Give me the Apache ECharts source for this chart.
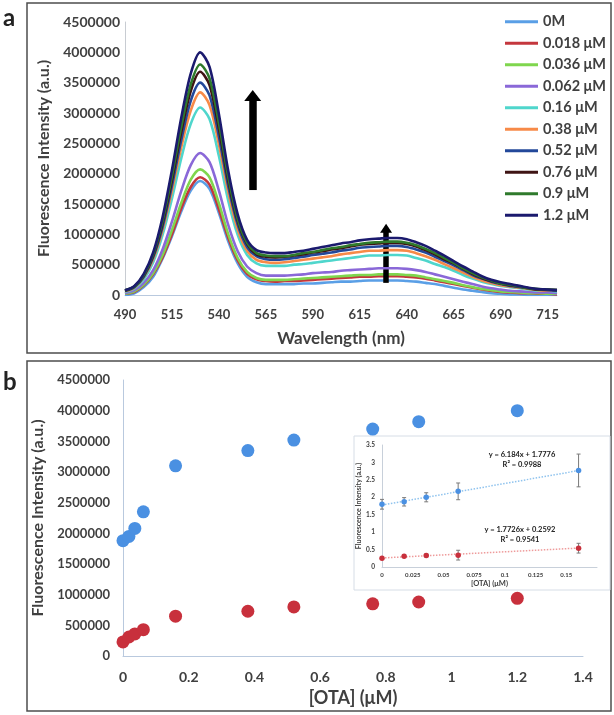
<!DOCTYPE html>
<html>
<head>
<meta charset="utf-8">
<script src="https://cdn.jsdelivr.net/npm/echarts@6/dist/echarts.min.js"></script>
<style>
html,body{margin:0;padding:0;background:#fff;}
#chart{width:614px;height:715px;}
</style>
</head>
<body>
<div id="chart"></div>
<script>
// ---------- Panel a: spectra ----------
const wavelengths = [490,495,500,505,510,515,520,525,530,535,540,545,550,555,560,565,570,575,580,585,590,595,600,605,610,615,620,625,630,635,640,645,650,655,660,665,670,675,680,685,690,695,700,705,710,715,720];
const seriesNames = ['0M','0.018 μM','0.036 μM','0.062 μM','0.16 μM','0.38 μM','0.52 μM','0.76 μM','0.9 μM','1.2 μM'];
const seriesColors = ['#5a9fe6','#c4373d','#7fd64e','#8a68d8','#4fd6cc','#f78a48','#23489a','#3f1414','#2f7a2c','#1b1a6e'];

const s0 = [0,30000,130000,300000,600000,970000,1380000,1720000,1880000,1750000,1350000,880000,520000,300000,210000,180000,180000,180000,180000,190000,190000,200000,210000,220000,220000,230000,240000,240000,240000,240000,230000,220000,200000,180000,150000,120000,90000,70000,50000,30000,20000,10000,10000,0,0,0,0];
const s018 = [20000,50000,160000,340000,620000,1000000,1430000,1780000,1940000,1820000,1410000,940000,570000,350000,260000,230000,220000,230000,230000,240000,250000,260000,270000,280000,290000,300000,300000,310000,310000,310000,300000,290000,270000,240000,210000,180000,150000,120000,90000,70000,50000,40000,30000,30000,20000,20000,10000];
const s036 = [20000,60000,170000,360000,660000,1070000,1520000,1900000,2070000,1940000,1510000,1000000,610000,380000,280000,250000,250000,250000,260000,270000,280000,290000,300000,310000,320000,330000,330000,340000,340000,340000,330000,320000,290000,260000,230000,200000,160000,130000,100000,80000,60000,50000,40000,30000,30000,20000,20000];
const s062 = [30000,80000,200000,410000,750000,1210000,1720000,2140000,2340000,2190000,1720000,1150000,720000,470000,360000,320000,320000,320000,330000,340000,360000,370000,380000,400000,410000,420000,430000,440000,440000,440000,430000,410000,380000,340000,300000,260000,220000,180000,140000,110000,90000,70000,60000,50000,40000,40000,30000];
const s16 = [50000,110000,260000,540000,990000,1590000,2260000,2820000,3090000,2900000,2290000,1550000,990000,660000,520000,480000,480000,480000,500000,510000,530000,550000,570000,590000,610000,630000,650000,650000,660000,660000,650000,610000,570000,510000,460000,400000,330000,270000,220000,180000,150000,130000,110000,90000,70000,70000,60000];
const s38 = [60000,120000,290000,590000,1070000,1720000,2440000,3040000,3340000,3130000,2480000,1690000,1080000,730000,580000,540000,530000,540000,560000,580000,600000,620000,640000,670000,690000,710000,730000,730000,740000,740000,730000,690000,640000,580000,510000,440000,370000,300000,240000,200000,160000,140000,120000,100000,80000,70000,70000];
const s52 = [70000,130000,300000,620000,1120000,1800000,2560000,3200000,3500000,3290000,2610000,1790000,1160000,790000,640000,590000,580000,590000,610000,630000,660000,680000,700000,730000,750000,780000,790000,800000,810000,810000,790000,750000,700000,630000,560000,490000,410000,330000,270000,220000,180000,150000,130000,110000,90000,80000,70000];
const s76 = [70000,140000,320000,650000,1180000,1890000,2690000,3360000,3680000,3460000,2740000,1880000,1220000,840000,670000,630000,620000,630000,650000,670000,700000,720000,750000,770000,800000,830000,840000,850000,860000,860000,840000,800000,740000,670000,590000,520000,430000,350000,280000,230000,190000,160000,140000,110000,90000,90000,80000];
const s90 = [80000,140000,330000,670000,1220000,1960000,2780000,3470000,3800000,3570000,2830000,1940000,1250000,860000,690000,650000,640000,640000,660000,690000,710000,740000,770000,790000,820000,840000,860000,870000,880000,880000,860000,820000,760000,690000,610000,530000,440000,360000,290000,240000,190000,170000,140000,110000,100000,90000,80000];
const s120 = [80000,150000,350000,700000,1280000,2060000,2930000,3650000,4000000,3760000,2980000,2040000,1330000,910000,740000,700000,690000,690000,710000,730000,760000,790000,820000,850000,870000,900000,920000,930000,940000,940000,920000,870000,810000,730000,650000,560000,470000,390000,310000,250000,210000,180000,150000,120000,100000,90000,80000];
const spectra = [s0,s018,s036,s062,s16,s38,s52,s76,s90,s120];

// arrows (annotation) : [wavelength, startValue, endValue]
const bigArrow = [558, 1730000, 3290000];
const smallArrow = [629, 200000, 1100000];

// ---------- Panel b: intensity vs concentration ----------
const otaConc = [0,0.018,0.036,0.062,0.16,0.38,0.52,0.76,0.9,1.2];
const peak530 = [1880000,1950000,2080000,2350000,3100000,3350000,3520000,3700000,3820000,4000000];
const peak630 = [230000,310000,360000,430000,650000,730000,800000,850000,880000,940000];

// ---------- Inset ----------
const insetConc = [0,0.018,0.036,0.062,0.16];
const insetBlue = [1.80,1.87,2.00,2.17,2.77];
const insetBlueErr = [0.14,0.12,0.13,0.24,0.47];
const insetRed = [0.25,0.31,0.33,0.34,0.54];
const insetRedErr = [0.02,0.03,0.04,0.14,0.14];
const blueTrend = [[0,1.7776],[0.16,2.7670]];
const redTrend = [[0,0.2592],[0.16,0.5428]];
const blueEq = ['y = 6.184x + 1.7776','R² = 0.9988'];
const redEq = ['y = 1.7726x + 0.2592','R² = 0.9541'];

const FONT = 'Lato';
const TXT = '#404040';

const chart = echarts.init(document.getElementById('chart'), null, {renderer:'canvas'});

const lineSeries = spectra.map((arr, i) => {
  const s = {
    name: seriesNames[i],
    type: 'line',
    xAxisIndex: 0, yAxisIndex: 0,
    data: wavelengths.map((w, j) => [w, arr[j]]),
    showSymbol: false,
    smooth: 0.3,
    lineStyle: {width: 2.6, color: seriesColors[i]},
    itemStyle: {color: seriesColors[i]},
    z: 2 + i
  };
  if (i === spectra.length - 1) {
    s.markLine = {
      silent: true,
      animation: false,
      label: {show: false},
      emphasis: {disabled: true},
      data: [
        [{coord: [bigArrow[0], bigArrow[1]], symbol: 'none', lineStyle: {color: '#000', width: 7.5, type: 'solid'}},
         {coord: [bigArrow[0], bigArrow[2]], symbol: 'triangle', symbolSize: [17, 11]}],
        [{coord: [smallArrow[0], smallArrow[1]], symbol: 'none', lineStyle: {color: '#000', width: 5.5, type: 'solid'}},
         {coord: [smallArrow[0], smallArrow[2]], symbol: 'triangle', symbolSize: [12, 9]}]
      ]
    };
  }
  return s;
});

function errRender() {
  return function (params, api) {
    const x = api.value(0), y = api.value(1), e = api.value(2);
    const t = api.coord([x, y + e]);
    const b = api.coord([x, y - e]);
    const w = 2;
    const st = {stroke: '#7a7a7a', lineWidth: 1};
    return {type: 'group', children: [
      {type: 'line', shape: {x1: t[0], y1: t[1], x2: b[0], y2: b[1]}, style: st},
      {type: 'line', shape: {x1: t[0] - w, y1: t[1], x2: t[0] + w, y2: t[1]}, style: st},
      {type: 'line', shape: {x1: b[0] - w, y1: b[1], x2: b[0] + w, y2: b[1]}, style: st}
    ]};
  };
}

const option = {
  animation: false,
  backgroundColor: '#fff',
  textStyle: {fontFamily: FONT},
  legend: {
    data: seriesNames,
    orient: 'vertical',
    left: 505, top: 11,
    padding: 0,
    itemWidth: 33, itemHeight: 3, itemGap: 0,
    icon: 'rect',
    selectedMode: false,
    textStyle: {fontFamily: FONT, fontWeight: 'bold', fontSize: 14.5, color: TXT, lineHeight: 21.5}
  },
  grid: [
    {left: 125, top: 22, width: 432, height: 273},
    {left: 123, top: 380, width: 460, height: 276},
    {left: 382, top: 445, width: 215, height: 122}
  ],
  xAxis: [
    {gridIndex: 0, type: 'value', min: 490, max: 720, interval: 25,
     axisLine: {show: true, lineStyle: {color: '#b9c9de', width: 1}}, axisTick: {show: false}, splitLine: {show: false},
     axisLabel: {showMaxLabel: false, fontFamily: FONT, fontWeight: 'bold', fontSize: 13, color: TXT, margin: 13},
     name: 'Wavelength (nm)', nameLocation: 'middle', nameGap: 35,
     nameTextStyle: {fontFamily: FONT, fontWeight: 'bold', fontSize: 17, color: TXT}},
    {gridIndex: 1, type: 'value', min: 0, max: 1.4, interval: 0.2,
     axisLine: {show: true, onZero: false, lineStyle: {color: '#b9c9de', width: 1}}, axisTick: {show: false}, splitLine: {show: false},
     axisLabel: {fontFamily: FONT, fontWeight: 'bold', fontSize: 14, color: TXT, margin: 14},
     name: '[OTA] (μM)', nameLocation: 'middle', nameGap: 33,
     nameTextStyle: {fontFamily: FONT, fontWeight: 'bold', fontSize: 18, color: TXT}},
    {gridIndex: 2, type: 'value', min: 0, max: 0.175, interval: 0.025,
     axisLine: {show: true, onZero: false, lineStyle: {color: '#c8d0da', width: 1}}, axisTick: {show: false}, splitLine: {show: false},
     axisLabel: {showMaxLabel: false, fontFamily: FONT, fontWeight: 'bold', fontSize: 6, color: TXT, margin: 5,
       formatter: v => String(Math.round(v * 1000) / 1000)},
     name: '[OTA] (μM)', nameLocation: 'middle', nameGap: 13,
     nameTextStyle: {fontFamily: FONT, fontWeight: 'bold', fontSize: 7.5, color: TXT}}
  ],
  yAxis: [
    {gridIndex: 0, type: 'value', min: 0, max: 4500000, interval: 500000,
     axisLine: {show: true, lineStyle: {color: '#c8ccd2', width: 1}}, axisTick: {show: false}, splitLine: {show: false},
     axisLabel: {fontFamily: FONT, fontWeight: 'bold', fontSize: 14, color: TXT, margin: 5, formatter: v => String(v)},
     name: 'Fluorescence Intensity (a.u.)', nameLocation: 'middle', nameGap: 72,
     nameTextStyle: {fontFamily: FONT, fontWeight: 'bold', fontSize: 16, color: TXT}},
    {gridIndex: 1, type: 'value', min: 0, max: 4500000, interval: 500000,
     axisLine: {show: true, onZero: false, lineStyle: {color: '#b9c9de', width: 1}}, axisTick: {show: false}, splitLine: {show: false},
     axisLabel: {fontFamily: FONT, fontWeight: 'bold', fontSize: 13, color: TXT, margin: 13, formatter: v => String(v)},
     name: 'Fluorescence Intensity (a.u.)', nameLocation: 'middle', nameGap: 73,
     nameTextStyle: {fontFamily: FONT, fontWeight: 'bold', fontSize: 16, color: TXT}},
    {gridIndex: 2, type: 'value', min: 0, max: 3.5, interval: 0.5,
     axisLine: {show: true, onZero: false, lineStyle: {color: '#c8d0da', width: 1}}, axisTick: {show: false}, splitLine: {show: false},
     axisLabel: {showMaxLabel: true, hideOverlap: false, fontFamily: FONT, fontWeight: 'bold', fontSize: 6.5, color: TXT, margin: 7,
       formatter: v => String(v)},
     name: 'Fluorescence Intensity (a.u.)', nameLocation: 'middle', nameGap: 15,
     nameTextStyle: {fontFamily: FONT, fontWeight: 'bold', fontSize: 7, color: TXT}}
  ],
  graphic: [
    {type: 'rect', shape: {x: 27, y: 3, width: 584, height: 350}, style: {fill: 'none', stroke: '#4d4d4d', lineWidth: 1.5}, z: -5, silent: true},
    {type: 'rect', shape: {x: 27, y: 361, width: 584, height: 350}, style: {fill: 'none', stroke: '#4d4d4d', lineWidth: 1.5}, z: -5, silent: true},
    {type: 'text', left: 3, top: 6, style: {text: 'a', font: 'bold 24px Lato', fill: '#222'}, silent: true},
    {type: 'text', left: 3, top: 370, style: {text: 'b', font: 'bold 24px Lato', fill: '#222'}, silent: true},
    {type: 'rect', shape: {x: 354, y: 436, width: 256, height: 154}, style: {fill: '#fff', stroke: '#d6dde6', lineWidth: 1}, z: -5, silent: true},
    {type: 'text', x: 522, y: 455, style: {text: blueEq[0], font: 'bold 7.5px Lato', fill: '#222', align: 'center', verticalAlign: 'middle'}, z: 5, silent: true},
    {type: 'text', x: 522, y: 464.5, style: {text: blueEq[1], font: 'bold 7.5px Lato', fill: '#222', align: 'center', verticalAlign: 'middle'}, z: 5, silent: true},
    {type: 'text', x: 520, y: 530, style: {text: redEq[0], font: 'bold 7.5px Lato', fill: '#222', align: 'center', verticalAlign: 'middle'}, z: 5, silent: true},
    {type: 'text', x: 520, y: 539.5, style: {text: redEq[1], font: 'bold 7.5px Lato', fill: '#222', align: 'center', verticalAlign: 'middle'}, z: 5, silent: true}
  ],
  series: lineSeries.concat([
    {name: 'blue530', type: 'scatter', xAxisIndex: 1, yAxisIndex: 1,
     data: otaConc.map((c, i) => [c, peak530[i]]), symbolSize: 13, itemStyle: {color: '#4a90e2', opacity: 1}},
    {name: 'red630', type: 'scatter', xAxisIndex: 1, yAxisIndex: 1,
     data: otaConc.map((c, i) => [c, peak630[i]]), symbolSize: 13, itemStyle: {color: '#c8303c', opacity: 1}},
    {name: 'blueTrend', type: 'line', xAxisIndex: 2, yAxisIndex: 2, data: blueTrend, showSymbol: false,
     lineStyle: {color: '#8fc3ee', width: 1.5, type: 'dotted'}, z: 6},
    {name: 'redTrend', type: 'line', xAxisIndex: 2, yAxisIndex: 2, data: redTrend, showSymbol: false,
     lineStyle: {color: '#ee9a9a', width: 1.5, type: 'dotted'}, z: 6},
    {name: 'blueErr', type: 'custom', xAxisIndex: 2, yAxisIndex: 2, renderItem: errRender(),
     data: insetConc.map((c, i) => [c, insetBlue[i], insetBlueErr[i]]), encode: {x: 0, y: 1}, z: 7},
    {name: 'redErr', type: 'custom', xAxisIndex: 2, yAxisIndex: 2, renderItem: errRender(),
     data: insetConc.map((c, i) => [c, insetRed[i], insetRedErr[i]]), encode: {x: 0, y: 1}, z: 7},
    {name: 'blueInset', type: 'scatter', xAxisIndex: 2, yAxisIndex: 2,
     data: insetConc.map((c, i) => [c, insetBlue[i]]), symbolSize: 5.5, itemStyle: {color: '#4a90e2', opacity: 1}, z: 8},
    {name: 'redInset', type: 'scatter', xAxisIndex: 2, yAxisIndex: 2,
     data: insetConc.map((c, i) => [c, insetRed[i]]), symbolSize: 5.5, itemStyle: {color: '#c8303c', opacity: 1}, z: 8}
  ])
};
chart.setOption(option);
</script>
</body>
</html>
